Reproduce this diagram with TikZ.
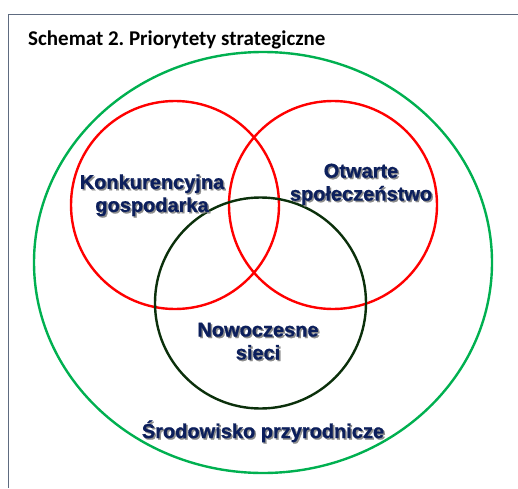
\documentclass[tikz,border=0pt]{standalone}
\usepackage{xcolor}
\usepackage{fontspec}
\setmainfont{Liberation Sans}[BoldFeatures={FakeBold=0.9}]
\newfontfamily\titlefont{Carlito}
\usepackage{tikz}
\usetikzlibrary{shapes.geometric, positioning, calc}
\definecolor{prframe}{HTML}{5E6B80}
\definecolor{prgreen}{HTML}{00B050}
\definecolor{prred}{HTML}{FF0000}
\definecolor{prdark}{HTML}{0B300B}
\definecolor{prnavy}{HTML}{0C1F5C}
\definecolor{prshadow}{HTML}{8C8C8C}
\frenchspacing
% text with a soft grey drop shadow
\newcommand{\shtext}[1]{\leavevmode\rlap{\kern1.5pt\raisebox{-1.5pt}{\textcolor{prshadow}{#1}}}#1}

\begin{document}
\begin{tikzpicture}[
  x=1pt, y=1pt,
  ring/.style={circle, draw=#1, line width=2.4pt, minimum size=208pt, inner sep=0pt},
  prlabel/.style={align=center, inner sep=0pt, text=prnavy, font=\fontsize{20}{23}\selectfont\bfseries}
]
  \useasboundingbox (0,0) rectangle (518,488);

  % Frame (cut by the page on the right and at the bottom)
  \draw[prframe, line width=1.3pt] (8.5,0) |- (518,473.5);

  % Title
  \node[anchor=base west, inner sep=0pt, font=\titlefont\fontsize{21}{24}\selectfont\bfseries] (title) at (28,442.3) {Schemat 2. Priorytety strategiczne};

  % Outer environment ellipse
  \node[ellipse, draw=prgreen, line width=2.4pt, minimum width=458pt, minimum height=421pt, inner sep=0pt] (env) at (263,225.5) {};

  % Two red rings and the dark ring
  \node[ring=prred] (econ) at (175,283) {};
  \node[ring=prred] (soc) at (333,283) {};
  \node[ring=prdark, minimum size=211pt] (net) at (260.5,185) {};

  % Labels
  \node[prlabel] (econlbl) at (152,292) {\shtext{Konkurencyjna}\\\shtext{gospodarka}};
  \node[prlabel] (soclbl) at (361,303) {\shtext{Otwarte}\\\shtext{społeczeństwo}};
  \node[prlabel] (netlbl) at (258,146) {\shtext{Nowoczesne}\\\shtext{sieci}};
  \node[prlabel] (envlbl) at (263,56) {\shtext{Środowisko przyrodnicze}};
\end{tikzpicture}
\end{document}
